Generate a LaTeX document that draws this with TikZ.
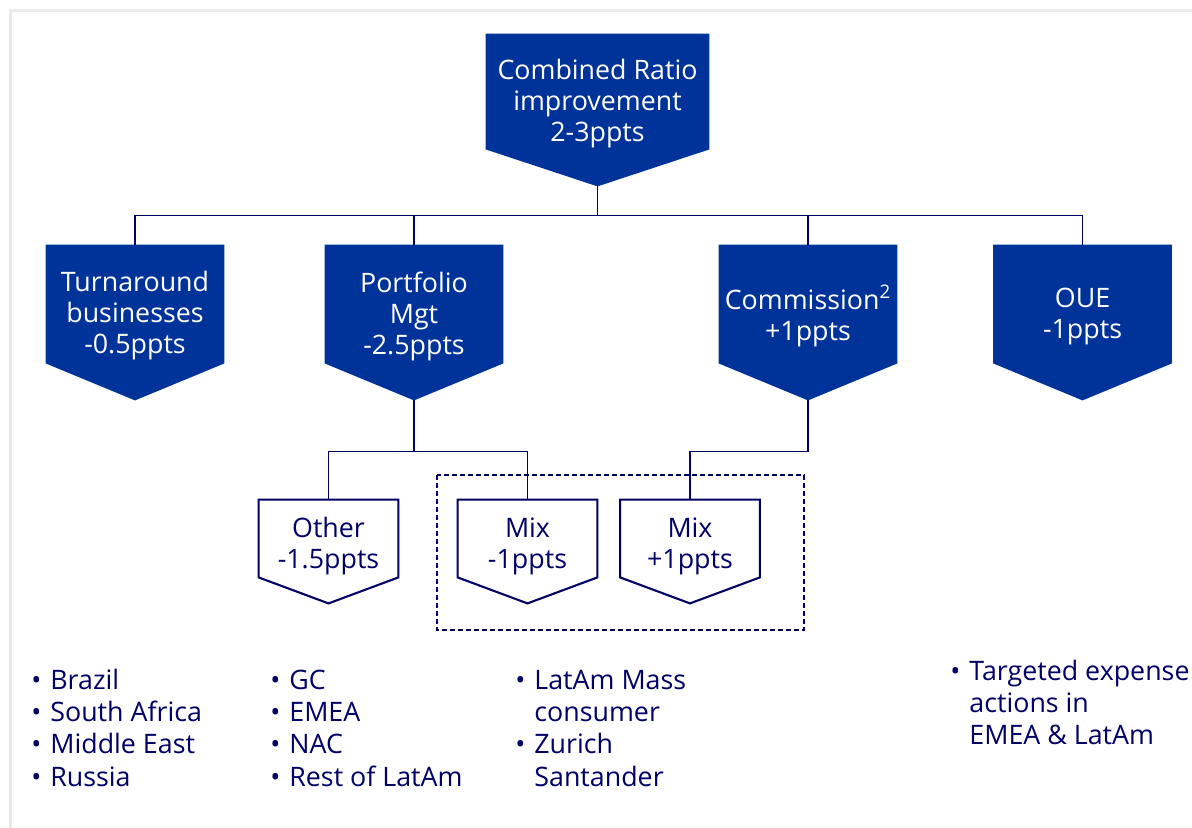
\documentclass[tikz,border=0pt]{standalone}
\usepackage{fontspec}
\setmainfont{Open Sans}
\definecolor{boxblue}{RGB}{0,51,153}
\definecolor{navy}{RGB}{0,0,102}
\definecolor{framegray}{RGB}{232,235,234}
% bullet with its hanging space
\newcommand{\blt}{\makebox[9.5pt][l]{\textbullet}}
\newcommand{\hang}{\hspace*{9.5pt}}
% outline of a box pointing down: node, tip depth, style
\newcommand{\tipshape}[3]{%
  \path[#3] (#1.north west) -- (#1.north east) -- (#1.south east)
    -- ([yshift=-#2]#1.south) -- (#1.south west) -- cycle;
  \coordinate (#1-tip) at ([yshift=-#2]#1.south);}

\begin{document}
\begin{tikzpicture}[x=0.5pt,y=-0.5pt,
  topbox/.style={inner sep=0pt, minimum width=111.5pt, minimum height=57.5pt},
  midbox/.style={inner sep=0pt, minimum width=89pt, minimum height=59pt},
  lowbox/.style={inner sep=0pt, minimum width=69.5pt, minimum height=38.5pt},
  boxfont/.style={font=\fontsize{13.4}{15.5}\selectfont, align=center, inner sep=0pt},
  whitetext/.style={boxfont, text=white},
  navytext/.style={boxfont, text=navy},
  listtext/.style={font=\fontsize{13.4}{16.2}\selectfont, align=left, inner sep=0pt, text=navy, anchor=north west},
  link/.style={navy, line width=0.75pt},
  outline/.style={draw=navy, fill=white, line width=1.05pt}]
\useasboundingbox (0,0) rectangle (1192,828);
\fill[white] (0,0) rectangle (1192,828);

%Frame
\draw[framegray, line width=1.5pt] (10.5,828) -- (10.5,10.5) -- (1192,10.5);

%Shape: top box
\node[topbox] (ratio) at (597.5,91.5) {};
\tipshape{ratio}{18.5pt}{fill=boxblue}
\node[whitetext] (ratio-txt) at ([yshift=-6pt]ratio.center) {Combined Ratio\\improvement\\2-3ppts};

%Shape: second row
\node[midbox] (turn) at (135,304) {};
\tipshape{turn}{18.5pt}{fill=boxblue}
\node[midbox] (port) at (414,304) {};
\tipshape{port}{18.5pt}{fill=boxblue}
\node[midbox] (comm) at (808,304) {};
\tipshape{comm}{18.5pt}{fill=boxblue}
\node[midbox] (oue) at (1082.5,304) {};
\tipshape{oue}{18.5pt}{fill=boxblue}

% Text Node
\node[whitetext] (turn-txt) at ([yshift=-6pt]turn.center) {Turnaround\\businesses\\-0.5ppts};
\node[whitetext] (port-txt) at ([yshift=-6pt]port.center) {Portfolio\\Mgt\\-2.5ppts};
\node[whitetext] (comm-txt) at ([yshift=-6pt]comm.center) {Commission\textsuperscript{2}\\+1ppts};
\node[whitetext] (oue-txt) at ([yshift=-6.5pt]oue.center) {OUE\\-1ppts};

%Straight Lines
\draw[link] (ratio-tip) -- ++(0,29) -| (turn.north);
\draw[link] (ratio-tip) -- ++(0,29) -| (port.north);
\draw[link] (ratio-tip) -- ++(0,29) -| (comm.north);
\draw[link] (ratio-tip) -- ++(0,29) -| (oue.north);

%Shape: third row
\node[lowbox] (other) at (328.5,538.5) {};
\tipshape{other}{13pt}{outline}
\node[lowbox] (mixa) at (527.5,538.5) {};
\tipshape{mixa}{13pt}{outline}
\node[lowbox] (mixb) at (690,538.5) {};
\tipshape{mixb}{13pt}{outline}

% Text Node
\node[navytext] (other-txt) at ([yshift=-4pt]other.center) {Other\\-1.5ppts};
\node[navytext] (mixa-txt) at ([yshift=-4pt]mixa.center) {Mix\\-1ppts};
\node[navytext] (mixb-txt) at ([yshift=-4pt]mixb.center) {Mix\\+1ppts};

%Straight Lines
\draw[link] (port-tip) -- ++(0,51) -| (other.north);
\draw[link] (port-tip) -- ++(0,51) -| (mixa.north);
\draw[link] (comm-tip) -- ++(0,51) -| (mixb.north);

%Shape: dashed group
\draw[navy, line width=0.65pt, dash pattern=on 2.5pt off 1.5pt] (437,475) rectangle (804,630);

% Text Node
\node[listtext] (turn-list) at (31,666) {\strut\blt Brazil\\\blt South Africa\\\blt Middle East\\\blt Russia};
\node[listtext] (port-list) at (270,666) {\strut\blt GC\\\blt EMEA\\\blt NAC\\\blt Rest of LatAm};
\node[listtext] (mix-list) at (515,666) {\strut\blt LatAm Mass\\\hang consumer\\\blt Zurich\\\hang Santander};
\node[listtext] (oue-list) at (950,657) {\strut\blt Targeted expense\\\hang actions in\\\hang EMEA \& LatAm};
\end{tikzpicture}
\end{document}
